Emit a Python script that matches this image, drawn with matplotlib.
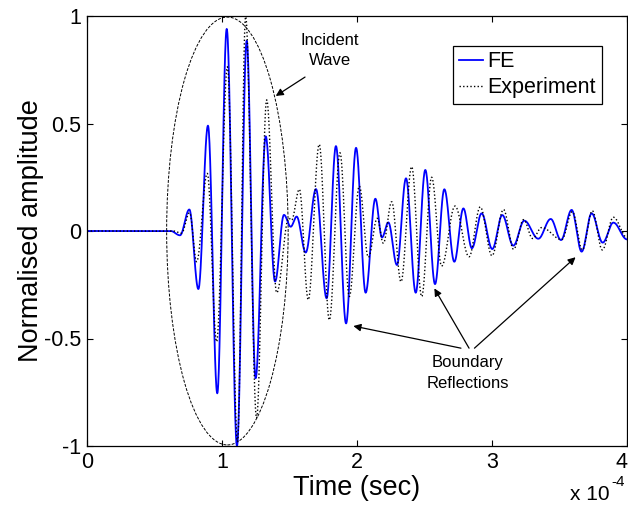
import numpy as np
import matplotlib
matplotlib.use("Agg")
import matplotlib.pyplot as plt
from matplotlib.patches import Ellipse

plt.rcParams['font.family'] = ['Liberation Sans', 'DejaVu Sans']

# Time in units of 1e-4 s ; extrema (peaks/troughs)
fe_t = [0, 0.62, 0.689, 0.758, 0.825, 0.896, 0.965, 1.035, 1.111, 1.183,
        1.249, 1.324, 1.393, 1.459, 1.509, 1.553, 1.62, 1.696, 1.775, 1.844,
        1.919, 1.993, 2.064, 2.136, 2.185, 2.232, 2.296, 2.363, 2.435, 2.506,
        2.578, 2.647, 2.721, 2.788, 2.851, 2.923, 3.002, 3.076, 3.158, 3.239,
        3.343, 3.435, 3.511, 3.59, 3.664, 3.738, 3.82, 3.899, 4.0]
fe_y = [0, 0, -0.02, 0.10, -0.27, 0.49, -0.755, 0.94, -1.0, 0.885,
        -0.685, 0.44, -0.235, 0.075, 0.02, 0.067, -0.10, 0.195, -0.313, 0.395,
        -0.43, 0.387, -0.287, 0.15, -0.03, 0.04, -0.158, 0.245, -0.287, 0.284,
        -0.247, 0.194, -0.143, 0.105, -0.08, 0.082, -0.084, 0.074, -0.068, 0.048,
        -0.036, 0.056, -0.042, 0.098, -0.096, 0.082, -0.054, 0.039, -0.039]

exp_t = [0, 0.64, 0.70, 0.76, 0.812, 0.891, 0.96, 1.04, 1.115, 1.175,
         1.256, 1.331, 1.405, 1.495, 1.515, 1.573, 1.639, 1.72, 1.795, 1.874,
         1.943, 2.017, 2.084, 2.15, 2.195, 2.257, 2.326, 2.405, 2.479, 2.553,
         2.627, 2.726, 2.83, 2.913, 3.0, 3.085, 3.16, 3.234, 3.301, 3.368,
         3.516, 3.595, 3.669, 3.743, 3.817, 3.899, 4.0]
exp_y = [0, 0, -0.01, 0.085, -0.143, 0.268, -0.515, 0.764, -0.98, 0.997,
         -0.87, 0.61, -0.287, 0.06, 0.05, 0.194, -0.32, 0.403, -0.414, 0.364,
         -0.305, 0.209, -0.122, 0.059, -0.057, 0.136, -0.236, 0.299, -0.305, 0.25,
         -0.163, 0.116, -0.12, 0.112, -0.115, 0.10, -0.085, 0.053, -0.035, 0.016,
         -0.04, 0.09, -0.088, 0.094, -0.088, 0.064, -0.03]

x_ticks = [0, 1, 2, 3, 4]
x_ticklabels = ['0', '1', '2', '3', '4']
y_ticks = [-1, -0.5, 0, 0.5, 1]
y_ticklabels = ['-1', '-0.5', '0', '0.5', '1']


def smooth(ts, ys, n=30):
    """Draw a smooth curve through the read extrema (rendering only)."""
    xo, yo = [], []
    for i in range(len(ts) - 1):
        s = np.linspace(0, 1, n, endpoint=False)
        w = (1 - np.cos(np.pi * s)) / 2
        xo.append(ts[i] + (ts[i + 1] - ts[i]) * s)
        yo.append(ys[i] + (ys[i + 1] - ys[i]) * w)
    xo.append([ts[-1]])
    yo.append([ys[-1]])
    return np.concatenate(xo), np.concatenate(yo)


fig = plt.figure(figsize=(6.28, 5.05), dpi=100)
ax = fig.add_axes([87 / 628, (505 - 446) / 505, 540 / 628, 430 / 505])

fx, fy = smooth(fe_t, fe_y)
ex, ey = smooth(exp_t, exp_y)
ax.plot(fx, fy, color=(0, 0, 1), lw=1.3, label='FE')
ax.plot(ex, ey, color='black', lw=1.0, linestyle=(0, (1, 1.6)), label='Experiment')

ax.set_xlim(0, 4)
ax.set_ylim(-1, 1)
ax.set_xticks(x_ticks)
ax.set_xticklabels(x_ticklabels)
ax.set_yticks(y_ticks)
ax.set_yticklabels(y_ticklabels)
ax.tick_params(direction='in', length=4, width=0.8, labelsize=15.5,
               top=True, right=True, pad=4)
ax.get_xticklabels()[-1].set_horizontalalignment('right')
for sp in ax.spines.values():
    sp.set_linewidth(0.9)

ax.set_xlabel('Time (sec)', fontsize=19.5, labelpad=2)
ax.set_ylabel('Normalised amplitude', fontsize=19.5, labelpad=0)

# ellipse around incident wave
ell = Ellipse((1.04, 0), 0.9, 1.99, fill=False, edgecolor='black', lw=0.7,
              linestyle=(0, (3, 1.5)), clip_on=False)
ax.add_patch(ell)

ap = dict(arrowstyle='-|>', color='black', lw=0.9, mutation_scale=11,
          shrinkA=0, shrinkB=0)
ax.text(1.80, 0.84, 'Incident\nWave', ha='center', va='center', fontsize=12,
        linespacing=1.45)
ax.annotate('', xy=(1.398, 0.628), xytext=(1.615, 0.716), arrowprops=ap)

ax.text(2.82, -0.66, 'Boundary\nReflections', ha='center', va='center',
        fontsize=12, linespacing=1.45)
ax.annotate('', xy=(1.973, -0.442), xytext=(2.77, -0.545), arrowprops=ap)
ax.annotate('', xy=(2.573, -0.267), xytext=(2.83, -0.545), arrowprops=ap)
ax.annotate('', xy=(3.619, -0.122), xytext=(2.87, -0.545), arrowprops=ap)

leg = ax.legend(loc='upper right', bbox_to_anchor=(0.953, 0.930),
                fontsize=15.5, frameon=True, fancybox=False, shadow=False,
                framealpha=1, edgecolor='black', borderpad=0.25,
                labelspacing=0.22, handlelength=1.15, handletextpad=0.2,
                borderaxespad=0)
leg.get_frame().set_linewidth(0.9)

fig.text(570 / 628, 1 - 495 / 505, 'x 10', fontsize=15, ha='left', va='center')
fig.text(611 / 628, 1 - 482 / 505, '-4', fontsize=11, ha='left', va='center')

fig.savefig('out.png', dpi=100)
